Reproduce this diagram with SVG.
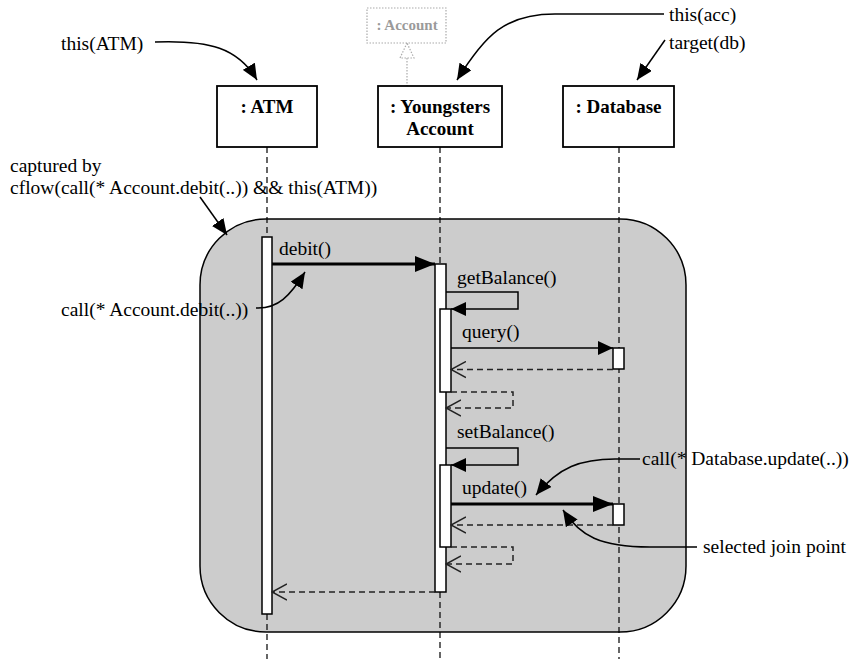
<svg xmlns="http://www.w3.org/2000/svg" width="850" height="659" viewBox="0 0 850 659">
  <style>
    .t { font-family: 'Liberation Serif', Tinos, 'Times New Roman', Times, 'Nimbus Roman', 'DejaVu Serif', serif; font-size: 19.5px; fill: #000; }
    .b { font-family: 'Liberation Serif', Tinos, 'Times New Roman', Times, 'Nimbus Roman', 'DejaVu Serif', serif; font-size: 19px; font-weight: bold; fill: #000; text-anchor: middle; }
    .ghost { font-family: 'Liberation Serif', Tinos, 'Times New Roman', Times, 'Nimbus Roman', 'DejaVu Serif', serif; font-size: 15px; font-weight: bold; fill: #9a9a9a; text-anchor: middle; }
    .box { fill: #fff; stroke: #000; stroke-width: 1.8; }
    .bar { fill: #fff; stroke: #000; stroke-width: 1.5; }
    .life { stroke: #000; stroke-width: 1.2; stroke-dasharray: 6 4; fill: none; }
    .msg { stroke: #000; stroke-width: 1.5; fill: none; }
    .thick { stroke: #000; stroke-width: 3.2; fill: none; }
    .ret { stroke: #222; stroke-width: 1.5; stroke-dasharray: 6 4; fill: none; }
    .ann { stroke: #000; stroke-width: 1.5; fill: none; }
  </style>
  <defs>
    <marker id="solid" viewBox="0 0 20 16" refX="20" refY="8" markerWidth="20" markerHeight="16" markerUnits="userSpaceOnUse" orient="auto">
      <path d="M0,0 L20,8 L0,16 Z" fill="#000"/>
    </marker>
    <marker id="solid-sm" viewBox="0 0 15 14" refX="15" refY="7" markerWidth="15" markerHeight="14" markerUnits="userSpaceOnUse" orient="auto">
      <path d="M0,0 L15,7 L0,14 Z" fill="#000"/>
    </marker>
    <marker id="open" viewBox="0 0 16 18" refX="15" refY="9" markerWidth="16" markerHeight="18" markerUnits="userSpaceOnUse" orient="auto">
      <path d="M0,1 L15,9 L0,17" fill="none" stroke="#222" stroke-width="1.5"/>
    </marker>
    <marker id="pointer" viewBox="0 0 16 14" refX="16" refY="7" markerWidth="16" markerHeight="14" markerUnits="userSpaceOnUse" orient="auto">
      <path d="M0,0 L16,7 L0,14 Z" fill="#000"/>
    </marker>
  </defs>

  <!-- control-flow region -->
  <rect id="cflow-region" x="200" y="219" width="486" height="413" rx="66" ry="66" fill="#cccccc" stroke="#000" stroke-width="1.5"/>

  <!-- generalisation to the abstract Account type -->
  <g id="account-type">
    <rect x="367" y="8" width="79" height="35" fill="#fff" stroke="#aaa" stroke-width="1.2" stroke-dasharray="1.5 1.5"/>
    <text class="ghost" x="407" y="30">: Account</text>
    <polygon points="407,43 400,58 414,58" fill="#fff" stroke="#aaa" stroke-width="1.2" stroke-dasharray="1.5 1.5"/>
    <line x1="407" y1="58" x2="407" y2="86" stroke="#aaa" stroke-width="1.2" stroke-dasharray="1.5 1.5"/>
  </g>

  <!-- lifelines -->
  <g id="lifelines">
    <path class="life" d="M267,147 V237 M267,614 V659"/>
    <path class="life" d="M440,147 V264 M440,592 V659"/>
    <path class="life" d="M619,147 V659"/>
  </g>

  <!-- participants -->
  <g id="atm">
    <rect class="box" x="217" y="86" width="100" height="61"/>
    <text class="b" x="267" y="113">: ATM</text>
    <rect class="bar" x="262" y="237" width="10" height="377"/>
  </g>
  <g id="youngsters-account">
    <rect class="box" x="378" y="86" width="124" height="61"/>
    <text class="b" x="440" y="113">: Youngsters</text>
    <text class="b" x="440" y="135">Account</text>
    <rect class="bar" x="435" y="264" width="11" height="328"/>
    <rect class="bar" x="440" y="309" width="11" height="83"/>
    <rect class="bar" x="440" y="465" width="11" height="82"/>
  </g>
  <g id="database">
    <rect class="box" x="563" y="86" width="111" height="61"/>
    <text class="b" x="618.5" y="113">: Database</text>
    <rect class="bar" x="613" y="348" width="11" height="21"/>
    <rect class="bar" x="613" y="504" width="11" height="21"/>
  </g>

  <!-- messages -->
  <g id="connectors">
    <path class="thick" d="M272,264 H435" marker-end="url(#solid)"/>
    <path class="msg" d="M446,292 H518 V309 H451" marker-end="url(#solid-sm)"/>
    <path class="msg" d="M451,348 H613" marker-end="url(#solid-sm)"/>
    <path class="ret" d="M613,369.5 H451" marker-end="url(#open)"/>
    <path class="ret" d="M451,392 H513 V408 H446" marker-end="url(#open)"/>
    <path class="msg" d="M446,448 H518 V465 H451" marker-end="url(#solid-sm)"/>
    <path class="thick" d="M451,504 H613" marker-end="url(#solid)"/>
    <path class="ret" d="M613,525 H451" marker-end="url(#open)"/>
    <path class="ret" d="M451,547 H513 V564 H446" marker-end="url(#open)"/>
    <path class="ret" d="M435,592 H272" marker-end="url(#open)"/>

    <!-- pointcut annotations -->
    <path class="ann" d="M155,42 C210,40 238,48 257,80" marker-end="url(#pointer)"/>
    <path class="ann" d="M664,14 L555,14 C505,14 485,35 457,80" marker-end="url(#pointer)"/>
    <path class="ann" d="M665,40 L637,80" marker-end="url(#pointer)"/>
    <path class="ann" d="M200,197 L227,235" marker-end="url(#pointer)"/>
    <path class="ann" d="M256,308 C278,309 290,296 305,272" marker-end="url(#pointer)"/>
    <path class="ann" d="M640,459 L620,459 C580,458 558,468 536,495" marker-end="url(#pointer)"/>
    <path class="ann" d="M697,547 L650,547 C600,547 580,536 563,510" marker-end="url(#pointer)"/>
  </g>

  <!-- message labels -->
  <g id="labels">
    <text class="t" x="279" y="255">debit()</text>
    <text class="t" x="457" y="284">getBalance()</text>
    <text class="t" x="462" y="338">query()</text>
    <text class="t" x="457" y="438">setBalance()</text>
    <text class="t" x="462" y="494">update()</text>
  </g>

  <!-- annotation texts -->
  <g id="notes">
    <text class="t" x="61" y="50">this(ATM)</text>
    <text class="t" x="669" y="21">this(acc)</text>
    <text class="t" x="669" y="49">target(db)</text>
    <text class="t" x="10" y="172">captured by</text>
    <text class="t" x="10" y="194">cflow(call(* Account.debit(..)) &amp;&amp; this(ATM))</text>
    <text class="t" x="61" y="316">call(* Account.debit(..))</text>
    <text class="t" x="642" y="465">call(* Database.update(..))</text>
    <text class="t" x="703" y="553">selected join point</text>
  </g>
</svg>
